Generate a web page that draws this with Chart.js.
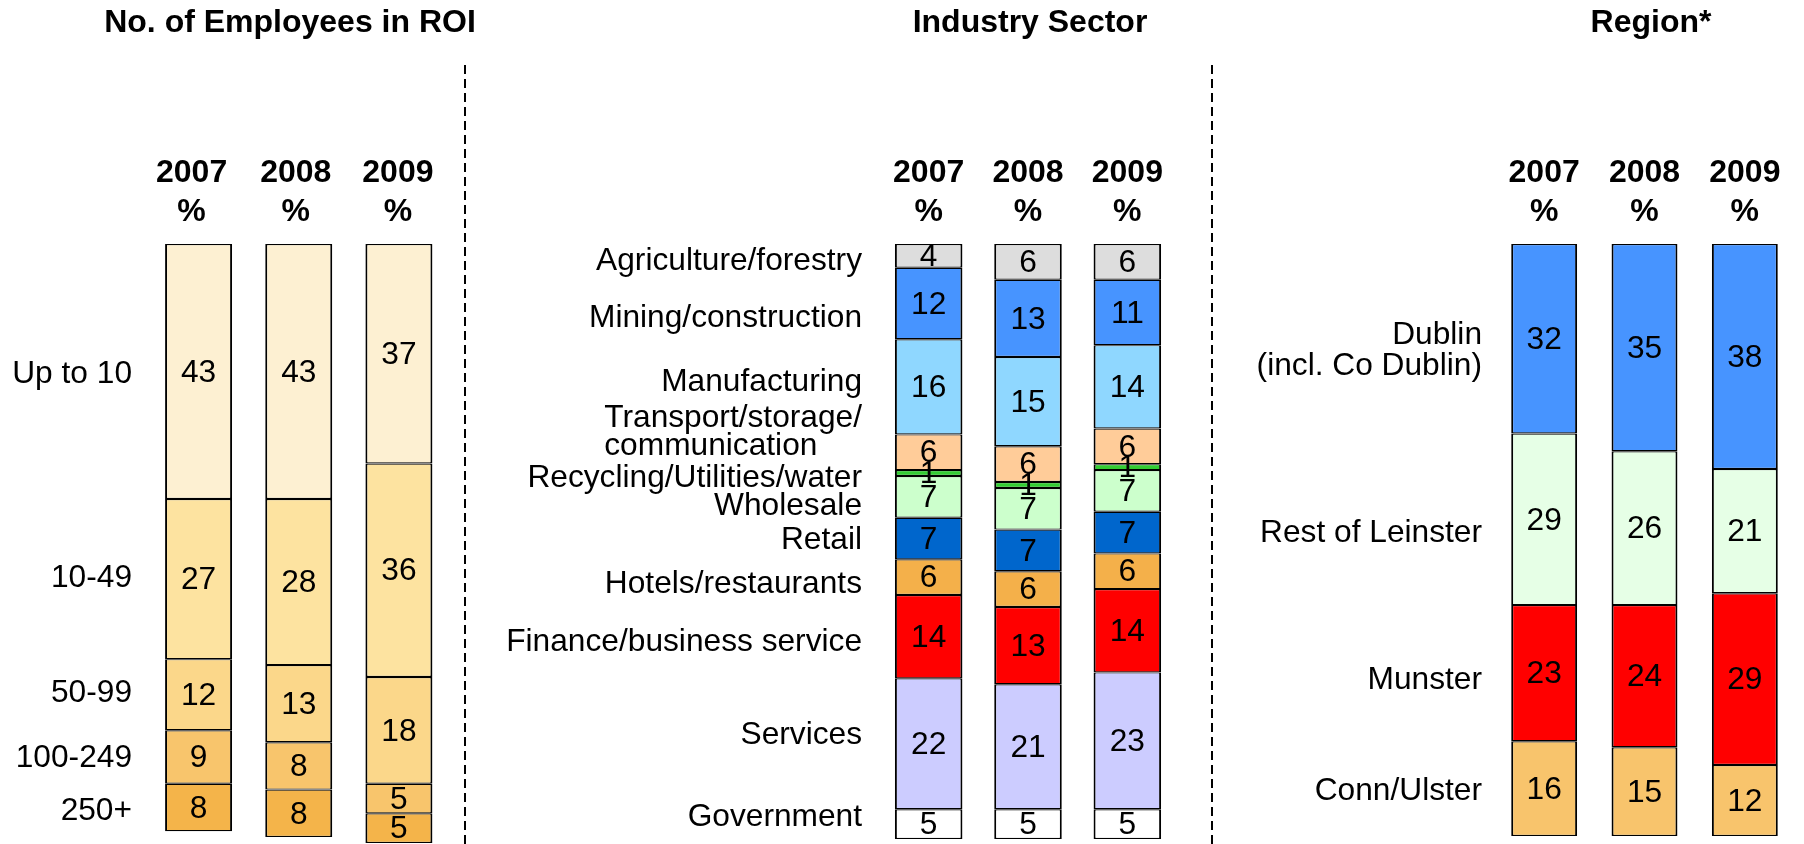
<!DOCTYPE html>
<html>
<head>
<meta charset="utf-8">
<script src="https://cdn.jsdelivr.net/npm/chart.js@4/dist/chart.umd.min.js"></script>
<style>
html,body{margin:0;padding:0;background:#fff;}
#wrap{position:relative;width:1804px;height:844px;overflow:hidden;background:#fff;}
#wrap canvas{position:absolute;left:0;top:0;}
</style>
</head>
<body>
<div id="wrap">
<canvas id="c1" width="1804" height="844"></canvas>
<canvas id="c2" width="1804" height="844"></canvas>
<canvas id="c3" width="1804" height="844"></canvas>
</div>
<script>
// ---------- data ----------
const years = ['2007', '2008', '2009'];

const employeeBands = ['Up to 10', '10-49', '50-99', '100-249', '250+'];
const employees2007 = [43, 27, 12, 9, 8];
const employees2008 = [43, 28, 13, 8, 8];
const employees2009 = [37, 36, 18, 5, 5];

const sectors = ['Agriculture/forestry', 'Mining/construction', 'Manufacturing',
  ['Transport/storage/', 'communication'], 'Recycling/Utilities/water', 'Wholesale',
  'Retail', 'Hotels/restaurants', 'Finance/business service', 'Services', 'Government'];
const sector2007 = [4, 12, 16, 6, 1, 7, 7, 6, 14, 22, 5];
const sector2008 = [6, 13, 15, 6, 1, 7, 7, 6, 13, 21, 5];
const sector2009 = [6, 11, 14, 6, 1, 7, 7, 6, 14, 23, 5];

const regions = [['Dublin', '(incl. Co Dublin)'], 'Rest of Leinster', 'Munster', 'Conn/Ulster'];
const region2007 = [32, 29, 23, 16];
const region2008 = [35, 26, 24, 15];
const region2009 = [38, 21, 29, 12];

// ---------- styles ----------
const FONT = "'Liberation Sans', Arial, Helvetica, sans-serif";
const TEXT_SIZE = '31.7px ';
const employeeColors = ['#FDF0D2', '#FDE3A0', '#FBD78A', '#F8C56C', '#F4B44A'];
const sectorColors = ['#DDDDDD', '#4794FF', '#8FD7FF', '#FFCC99', '#33CC33', '#CCFFCC',
  '#0066CC', '#F4B04A', '#FF0000', '#CCCCFF', '#FFFFFF'];
const regionColors = ['#4794FF', '#E6FFE6', '#FF0000', '#F8C46C'];

const panelText = {
  id: 'panelText',
  afterDatasetsDraw(chart, args, opts) {
    const ctx = chart.ctx;
    const xs = chart.scales.x, ys = chart.scales.y;
    ctx.save();
    ctx.fillStyle = '#000';
    ctx.textBaseline = 'middle';

    // values inside segments
    ctx.font = TEXT_SIZE + FONT;
    ctx.textAlign = 'center';
    chart.data.datasets.forEach((ds, di) => {
      const meta = chart.getDatasetMeta(di);
      meta.data.forEach((el, i) => {
        const p = el.getProps(['x', 'y', 'base'], true);
        ctx.fillText(String(ds.data[i]), p.x, (p.y + p.base) / 2 + 1.5);
      });
    });

    // year headers
    ctx.font = 'bold 32px ' + FONT;
    chart.data.labels.forEach((lab, i) => {
      const x = xs.getPixelForValue(i) + (opts.headerShift ? opts.headerShift[i] : 0);
      ctx.fillText(lab, x, opts.yearY);
      ctx.fillText('%', x, opts.pctY);
    });

    // panel title
    ctx.font = 'bold 32px ' + FONT;
    ctx.fillText(opts.title, opts.titleX, opts.titleY);

    // category labels, placed beside the first-year segments
    ctx.font = TEXT_SIZE + FONT;
    let cum = 0;
    opts.categories.forEach((cat, k) => {
      const v = chart.data.datasets[k].data[0];
      const mid = ys.getPixelForValue(cum + v / 2) + (opts.offsets[k] || 0);
      cum += v;
      const lines = Array.isArray(cat) ? cat : [cat];
      const n = lines.length;
      let maxW = 0;
      lines.forEach(l => { maxW = Math.max(maxW, ctx.measureText(l).width); });
      lines.forEach((l, j) => {
        const y = mid + (j - (n - 1) / 2) * opts.lineGap;
        if (n > 1 && opts.multiAlign === 'left') {
          ctx.textAlign = 'left';
          ctx.fillText(l, opts.labelRight - maxW, y);
        } else {
          ctx.textAlign = 'right';
          ctx.fillText(l, opts.labelRight, y);
        }
      });
    });

    // dashed separators
    if (opts.separators) {
      ctx.strokeStyle = '#000';
      ctx.lineWidth = 2;
      ctx.setLineDash([9, 5]);
      opts.separators.forEach(x => {
        ctx.beginPath();
        ctx.moveTo(x, 65);
        ctx.lineTo(x, 844);
        ctx.stroke();
      });
    }
    ctx.restore();
  }
};

function makeChart(id, cats, series, colors, cfg) {
  const datasets = cats.map((c, k) => ({
    label: Array.isArray(c) ? c.join(' ') : c,
    data: series.map(s => s[k]),
    backgroundColor: colors[k],
    borderColor: '#000',
    borderWidth: {left: 2, right: 2, top: 1.2, bottom: 1.2},
    borderSkipped: false,
    barPercentage: 1,
    categoryPercentage: cfg.catPct
  }));
  return new Chart(document.getElementById(id), {
    type: 'bar',
    data: {labels: years, datasets},
    options: {
      responsive: false,
      animation: false,
      events: [],
      layout: {padding: cfg.padding},
      plugins: {
        legend: {display: false},
        tooltip: {enabled: false},
        panelText: {
          title: cfg.title, titleX: cfg.titleX, titleY: 23,
          yearY: 173, pctY: 212, headerShift: cfg.headerShift,
          categories: cats, offsets: cfg.offsets,
          labelRight: cfg.labelRight, lineGap: cfg.lineGap,
          multiAlign: cfg.multiAlign, separators: cfg.separators
        }
      },
      scales: {
        x: {stacked: true, display: false},
        y: {stacked: true, display: false, reverse: true, min: 0, max: cfg.max}
      }
    },
    plugins: [panelText]
  });
}

makeChart('c1', employeeBands, [employees2007, employees2008, employees2009], employeeColors, {
  title: 'No. of Employees in ROI', titleX: 290,
  padding: {left: 148.5, right: 1355, top: 244, bottom: 1},
  max: 101, catPct: 0.669, headerShift: [-7, -3, -1],
  offsets: [2.5, -1, -1.5, 1, 4], labelRight: 132, multiAlign: 'right', lineGap: 30,
  separators: [465, 1212]
});

makeChart('c2', sectors, [sector2007, sector2008, sector2009], sectorColors, {
  title: 'Industry Sector', titleX: 1030,
  padding: {left: 879, right: 627, top: 244, bottom: 5},
  max: 100, catPct: 0.68,
  offsets: [5, 15, -5, -20, 5, 9, 2, 7, 6, -9, -7], labelRight: 862, multiAlign: 'left', lineGap: 28
});

makeChart('c3', regions, [region2007, region2008, region2009], regionColors, {
  title: 'Region*', titleX: 1651,
  padding: {left: 1494, right: 9, top: 244, bottom: 8},
  max: 100, catPct: 0.657,
  offsets: [12, 14, 7, 3], labelRight: 1482, multiAlign: 'right', lineGap: 31
});
</script>
</body>
</html>
